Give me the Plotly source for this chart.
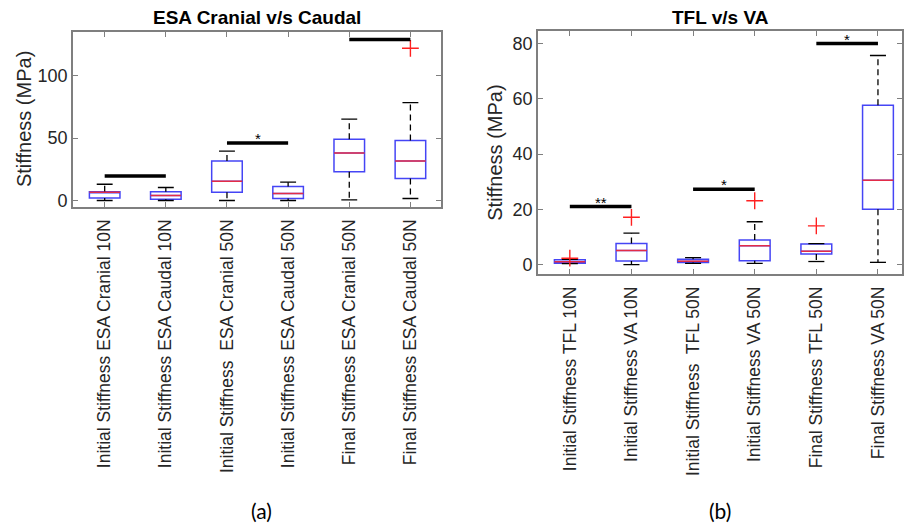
import plotly.graph_objects as go

# ---------------- data ----------------
left_labels = ["Initial Stiffness ESA Cranial 10N", "Initial Stiffness ESA Caudal 10N",
               "Initial Stiffness  ESA Cranial 50N", "Initial Stiffness ESA Caudal 50N",
               "Final Stiffness ESA Cranial 50N", "Final Stiffness ESA Caudal 50N"]
left_lo = [0, 0, 0, 0, 0.5, 1.6]
left_q1 = [2, 1, 6.7, 1.6, 23, 17.6]
left_median = [6.6, 4, 15.5, 5.6, 38, 31.7]
left_q3 = [7, 7, 31.7, 11.2, 49, 48]
left_hi = [13, 10.4, 39.5, 14.7, 65.3, 78.4]
left_out_x = [6]
left_out_y = [122]
left_sig_a = [1, 3, 5]
left_sig_b = [2, 4, 6]
left_sig_y = [19.7, 46, 129]
left_sig_txt = ["", "*", ""]

right_labels = ["Initial Stiffness TFL 10N", "Initial Stiffness VA 10N",
                "Initial Stiffness  TFL 50N", "Initial Stiffness VA 50N",
                "Final Stiffness TFL 50N", "Final Stiffness VA 50N"]
right_lo = [0.3, 0, 0.4, 0.4, 1.1, 0.8]
right_q1 = [0.5, 1.3, 0.7, 1.4, 3.8, 20]
right_median = [1.0, 5.1, 1.2, 6.8, 4.8, 30.5]
right_q3 = [1.7, 7.6, 1.9, 8.9, 7.4, 57.7]
right_hi = [1.9, 11.4, 2.5, 15.5, 7.6, 75.7]
right_out_x = [1, 2, 4, 5]
right_out_y = [2.3, 17.1, 23.1, 14.0]
right_sig_a = [1, 3, 5]
right_sig_b = [2, 4, 6]
right_sig_y = [21, 27.3, 80]
right_sig_txt = ["**", "*", "*"]

positions = [1, 2, 3, 4, 5, 6]

FONT = "Liberation Sans, Arial, sans-serif"
BOXW = 0.5
CAPW = 0.13

fig = go.Figure()


def add_panel(xref, yref, lo, q1, med, q3, hi, ox, oy, sa, sb, sy, st):
    for i, p in enumerate(positions):
        # whiskers (dashed black)
        fig.add_trace(go.Scatter(x=[p, p, None, p, p], y=[q3[i], hi[i], None, q1[i], lo[i]],
                                 mode="lines", line=dict(color="black", width=1.3, dash="6px,4px"),
                                 xaxis=xref, yaxis=yref, showlegend=False, hoverinfo="skip"))
        # caps
        fig.add_trace(go.Scatter(x=[p - CAPW, p + CAPW, None, p - CAPW, p + CAPW],
                                 y=[hi[i], hi[i], None, lo[i], lo[i]],
                                 mode="lines", line=dict(color="black", width=1.3),
                                 xaxis=xref, yaxis=yref, showlegend=False, hoverinfo="skip"))
        # box
        fig.add_trace(go.Box(x=[p], q1=[q1[i]], median=[med[i]], q3=[q3[i]],
                             lowerfence=[q1[i]], upperfence=[q3[i]], width=BOXW,
                             line=dict(color="#4545f5", width=1.5), fillcolor="rgba(0,0,0,0)",
                             whiskerwidth=0, xaxis=xref, yaxis=yref, showlegend=False,
                             hoverinfo="skip"))
        # median (red)
        fig.add_trace(go.Scatter(x=[p - BOXW / 2, p + BOXW / 2], y=[med[i], med[i]],
                                 mode="lines", line=dict(color="rgba(255,40,40,0.85)", width=1.5),
                                 xaxis=xref, yaxis=yref, showlegend=False, hoverinfo="skip"))
    # outliers
    fig.add_trace(go.Scatter(x=ox, y=oy, mode="markers",
                             marker=dict(symbol="cross-thin", size=12,
                                         line=dict(color="#ff2020", width=1.4)),
                             xaxis=xref, yaxis=yref, showlegend=False, hoverinfo="skip"))
    # significance bars
    for a, b, yv, t in zip(sa, sb, sy, st):
        fig.add_trace(go.Scatter(x=[a, b], y=[yv, yv], mode="lines",
                                 line=dict(color="black", width=3.5),
                                 xaxis=xref, yaxis=yref, showlegend=False, hoverinfo="skip"))
        if t:
            fig.add_annotation(x=(a + b) / 2, y=yv, xref=xref, yref=yref, text=t,
                               showarrow=False, yanchor="bottom", yshift=-6,
                               font=dict(family=FONT, size=15, color="black"))


add_panel("x", "y", left_lo, left_q1, left_median, left_q3, left_hi,
          left_out_x, left_out_y, left_sig_a, left_sig_b, left_sig_y, left_sig_txt)
add_panel("x2", "y2", right_lo, right_q1, right_median, right_q3, right_hi,
          right_out_x, right_out_y, right_sig_a, right_sig_b, right_sig_y, right_sig_txt)

axis_common = dict(showline=True, linecolor="#7f7f7f", linewidth=1.5, mirror="allticks",
                   ticks="inside", ticklen=5, tickcolor="#7f7f7f", tickwidth=1,
                   showgrid=False, zeroline=False)

fig.update_layout(
    width=904, height=530, margin=dict(l=0, r=0, t=0, b=0),
    paper_bgcolor="white", plot_bgcolor="white", showlegend=False,
    boxmode="overlay",
    xaxis=dict(domain=[0.0808, 0.4889], range=[0.48, 6.5], tickvals=positions,
               ticktext=left_labels, tickangle=-90, ticklabelstandoff=4,
               tickfont=dict(family=FONT, size=17.5, color="#262626"),
               anchor="y", **axis_common),
    yaxis=dict(domain=[0.607, 0.939], range=[-5, 135], tickvals=[0, 50, 100],
               tickfont=dict(family=FONT, size=18, color="#262626"),
               anchor="x", **axis_common),
    xaxis2=dict(domain=[0.5962, 1.0], range=[0.48, 6.39], tickvals=positions,
                ticktext=right_labels, tickangle=-90, ticklabelstandoff=4,
                tickfont=dict(family=FONT, size=17.5, color="#262626"),
                anchor="y2", **axis_common),
    yaxis2=dict(domain=[0.4792, 0.9402], range=[-3.4, 84.4], tickvals=[0, 20, 40, 60, 80],
                tickfont=dict(family=FONT, size=18, color="#262626"),
                anchor="x2", **axis_common),
)

ann = dict(xref="paper", yref="paper", showarrow=False, xanchor="center", yanchor="middle")
# y-axis titles
fig.add_annotation(x=24 / 904, y=1 - 120 / 530, text="Stiffness (MPa)", textangle=-90,
                   font=dict(family=FONT, size=20, color="#262626"), **ann)
fig.add_annotation(x=496 / 904, y=1 - 154 / 530, text="Stiffness (MPa)", textangle=-90,
                   font=dict(family=FONT, size=20, color="#262626"), **ann)
# panel titles
fig.add_annotation(x=257.5 / 904, y=1 - 18 / 530, text="<b>ESA Cranial v/s Caudal</b>",
                   font=dict(family=FONT, size=19, color="black"), **ann)
fig.add_annotation(x=722 / 904, y=1 - 18 / 530, text="<b>TFL v/s VA</b>",
                   font=dict(family=FONT, size=19, color="black"), **ann)
# captions
fig.add_annotation(x=262 / 904, y=1 - 514 / 530, text="(a)",
                   font=dict(family="Lato, Open Sans, sans-serif", size=21, color="black"), **ann)
fig.add_annotation(x=722 / 904, y=1 - 514 / 530, text="(b)",
                   font=dict(family="Lato, Open Sans, sans-serif", size=21, color="black"), **ann)

fig.write_html("out.html", config={"displayModeBar": False},
               post_script="document.body.style.margin='0';document.body.style.overflow='hidden';")
